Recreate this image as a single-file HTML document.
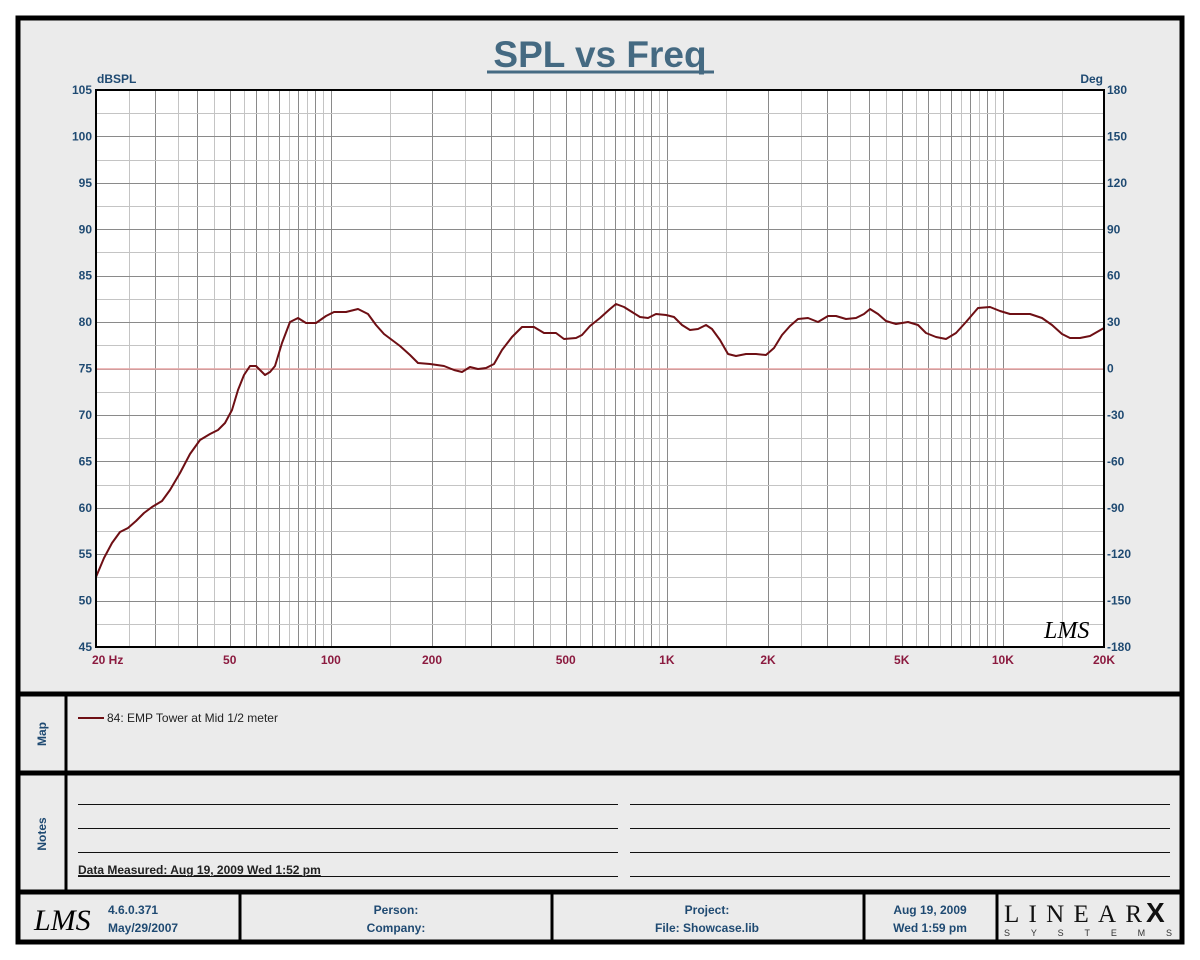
<!DOCTYPE html>
<html><head><meta charset="utf-8"><style>
html,body{margin:0;padding:0;background:#fff;}
svg{display:block;font-family:"Liberation Sans",Arial,sans-serif;}
</style></head><body>
<svg id="s" width="1200" height="960" xmlns="http://www.w3.org/2000/svg">
<rect x="18" y="18" width="1164" height="924" fill="#ebebeb" stroke="#000" stroke-width="5"/>
<rect x="96" y="90" width="1008" height="557" fill="#fff"/>
<g id="grid"></g>
<line x1="96" y1="369" x2="1104" y2="369" stroke="#e8a4a4" stroke-width="1.5"/>
<polyline id="curve" fill="none" stroke="#6e0f14" stroke-width="2" stroke-linejoin="round"/>
<rect x="96" y="90" width="1008" height="557" fill="none" stroke="#000" stroke-width="2"/>
<text x="600" y="67" text-anchor="middle" font-size="37" font-weight="bold" fill="#456a82">SPL vs Freq</text>
<line x1="487" y1="72" x2="714" y2="72" stroke="#456a82" stroke-width="3"/>
<text x="97" y="83" font-size="12" font-weight="bold" fill="#1f4a72">dBSPL</text>
<text x="1103" y="83" font-size="12" font-weight="bold" fill="#1f4a72" text-anchor="end">Deg</text>
<g id="lab" font-size="12" font-weight="bold"></g>
<text x="1044" y="638" font-size="24" font-style="italic" fill="#000" font-family="Liberation Serif,serif">LMS</text>
<line x1="18" y1="694" x2="1182" y2="694" stroke="#000" stroke-width="5"/>
<line x1="18" y1="773" x2="1182" y2="773" stroke="#000" stroke-width="5"/>
<line x1="18" y1="892" x2="1182" y2="892" stroke="#000" stroke-width="5"/>
<line x1="66" y1="694" x2="66" y2="892" stroke="#000" stroke-width="3"/>
<text transform="translate(46,734) rotate(-90)" text-anchor="middle" font-size="12" font-weight="bold" fill="#1f4a72">Map</text>
<text transform="translate(46,834) rotate(-90)" text-anchor="middle" font-size="12" font-weight="bold" fill="#1f4a72">Notes</text>
<line x1="78" y1="718" x2="104" y2="718" stroke="#6e0f14" stroke-width="2"/>
<text x="107" y="722" font-size="12" fill="#222">84: EMP Tower at Mid 1/2 meter</text>
<g stroke="#111" stroke-width="1">
<line x1="78" y1="804.5" x2="618" y2="804.5"/><line x1="630" y1="804.5" x2="1170" y2="804.5"/>
<line x1="78" y1="828.5" x2="618" y2="828.5"/><line x1="630" y1="828.5" x2="1170" y2="828.5"/>
<line x1="78" y1="852.5" x2="618" y2="852.5"/><line x1="630" y1="852.5" x2="1170" y2="852.5"/>
<line x1="78" y1="876.5" x2="618" y2="876.5"/><line x1="630" y1="876.5" x2="1170" y2="876.5"/>
</g>
<text x="78" y="874" font-size="12" font-weight="bold" fill="#222" text-decoration="underline">Data Measured: Aug 19, 2009  Wed  1:52 pm</text>
<g stroke="#000" stroke-width="3">
<line x1="240" y1="892" x2="240" y2="942"/><line x1="552" y1="892" x2="552" y2="942"/>
<line x1="864" y1="892" x2="864" y2="942"/><line x1="997" y1="892" x2="997" y2="942"/>
</g>
<text x="34" y="930" font-size="30" font-style="italic" fill="#000" font-family="Liberation Serif,serif">LMS</text>
<g font-size="12" font-weight="bold" fill="#1f4a72">
<text x="108" y="914">4.6.0.371</text><text x="108" y="932">May/29/2007</text>
<text x="396" y="914" text-anchor="middle">Person:</text><text x="396" y="932" text-anchor="middle">Company:</text>
<text x="707" y="914" text-anchor="middle">Project:</text><text x="707" y="932" text-anchor="middle">File: Showcase.lib</text>
<text x="930" y="914" text-anchor="middle">Aug 19, 2009</text><text x="930" y="932" text-anchor="middle">Wed  1:59 pm</text>
</g>
<text x="1004" y="922" font-size="25" font-family="Liberation Serif,serif" fill="#111" textLength="138" lengthAdjust="spacing">LINEAR</text>
<text x="1146" y="922" font-size="28" font-weight="bold" fill="#111">X</text>
<text x="1004" y="936" font-size="9" fill="#333" textLength="168" lengthAdjust="spacing">SYSTEMS</text>
</svg>
<script>
var NS="http://www.w3.org/2000/svg";
function el(p,t,a,txt){var e=document.createElementNS(NS,t);for(var k in a)e.setAttribute(k,a[k]);if(txt)e.textContent=txt;p.appendChild(e);return e;}
var g=document.getElementById('grid'),lab=document.getElementById('lab');
function X(f){return 96+336*Math.log10(f/20);}
[[20,100],[100,1000],[1000,10000],[10000,20000]].forEach(function(d){
  var step=d[0]==20?5:d[0]/2;
  for(var f=d[0];f<=d[1];f+=step){
    var major=(f%(d[0]==20?10:d[0]))==0;
    var x=Math.round(X(f))+0.5;
    el(g,'line',{x1:x,x2:x,y1:90,y2:647,stroke:major?'#8a8a8a':'#c4c4c4','stroke-width':1});
  }
});
for(var i=0;i<=24;i++){var y=Math.round(90+i*557/24)+0.5;
  el(g,'line',{x1:96,x2:1104,y1:y,y2:y,stroke:i%2==0?'#8a8a8a':'#c4c4c4','stroke-width':1});}
for(var i=0;i<=12;i++){var y=90+i*557/12+4;
  el(lab,'text',{x:92,y:y,'text-anchor':'end',fill:'#1f4a72'},String(105-5*i));
  el(lab,'text',{x:1107,y:y,fill:'#1f4a72'},String(180-30*i));}
[[20,'20  Hz'],[50,'50'],[100,'100'],[200,'200'],[500,'500'],[1000,'1K'],[2000,'2K'],[5000,'5K'],[10000,'10K'],[20000,'20K']].forEach(function(a){
  var x=X(a[0]);var anc='middle';if(a[0]==20){x=92;anc='start';}
  el(lab,'text',{x:x,y:664,'text-anchor':anc,fill:'#8b1a3f'},a[1]);});
var pts=[[96,577],[104,558],[112,543],[120,532],[128,528],[136,521],[144,513],[152,507],[162,501],[170,490],[180,473],[190,454],[200,440],[210,434],[218,430],[225,423],[232,410],[238,390],[244,375],[250,366],[256,366],[260,370],[265,375],[270,372],[275,366],[282,343],[290,322],[298,318],[306,323],[316,323],[326,316],[334,312],[346,312],[358,309],[368,314],[376,325],[384,334],[392,340],[400,346],[410,355],[418,363],[430,364],[444,366],[454,370],[462,372],[470,367],[478,369],[486,368],[494,364],[502,350],[512,337],[522,327],[534,327],[544,333],[556,333],[564,339],[576,338],[582,335],[590,326],[600,318],[610,309],[616,304],[624,307],[632,312],[640,317],[648,318],[656,314],[666,315],[674,317],[682,325],[690,330],[698,329],[706,325],[712,329],[720,340],[728,354],[736,356],[746,354],[756,354],[766,355],[774,348],[782,335],[790,326],[798,319],[808,318],[818,322],[828,316],[836,316],[846,319],[856,318],[864,314],[870,309],[878,314],[886,321],[896,324],[908,322],[918,325],[926,333],[936,337],[946,339],[956,333],[966,322],[978,308],[990,307],[1000,311],[1010,314],[1020,314],[1030,314],[1042,318],[1052,325],[1062,334],[1070,338],[1080,338],[1090,336],[1104,328]];
document.getElementById('curve').setAttribute('points',pts.map(function(p){return p.join(',');}).join(' '));
</script>
</body></html>
